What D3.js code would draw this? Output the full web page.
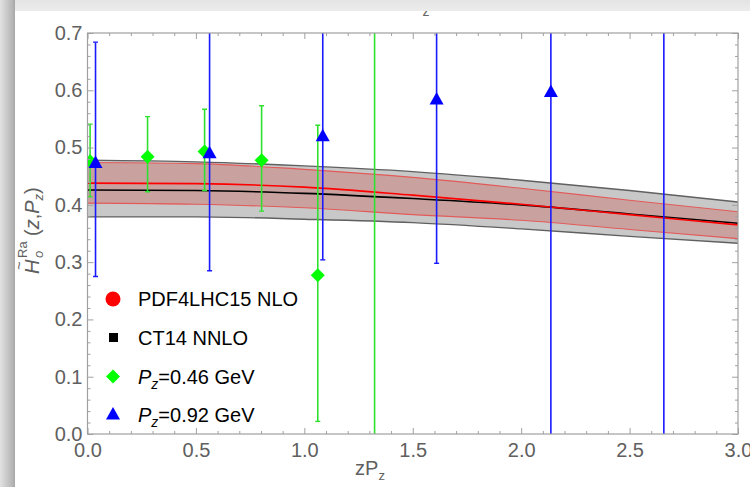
<!DOCTYPE html>
<html><head><meta charset="utf-8">
<script src="https://cdn.jsdelivr.net/npm/d3@7"></script>
<style>
html,body{margin:0;padding:0;background:#fff;}
svg{display:block;font-family:"Liberation Sans",Arial,sans-serif;}
</style></head>
<body><svg id="c" width="750" height="487"></svg>
<script>
// ---- data ----
const xTicks = [0, 0.5, 1.0, 1.5, 2.0, 2.5, 3.0];
const yTicks = [0, 0.1, 0.2, 0.3, 0.4, 0.5, 0.6, 0.7];
const xMinor = [0.1,0.2,0.3,0.4,0.6,0.7,0.8,0.9,1.1,1.2,1.3,1.4,1.6,1.7,1.8,1.9,2.1,2.2,2.3,2.4,2.6,2.7,2.8,2.9];
const yMinor = [0.02,0.04,0.06,0.08,0.12,0.14,0.16,0.18,0.22,0.24,0.26,0.28,0.32,0.34,0.36,0.38,0.42,0.44,0.46,0.48,0.52,0.54,0.56,0.58,0.62,0.64,0.66,0.68];

// bands
const bandX      = [0, 0.5, 1.0, 1.5, 2.0, 2.5, 3.0];
const ct14Upper  = [0.478, 0.475, 0.468, 0.458, 0.443, 0.425, 0.405];
const ct14Center = [0.426, 0.425, 0.420, 0.411, 0.400, 0.384, 0.368];
const ct14Lower  = [0.379, 0.379, 0.375, 0.369, 0.358, 0.345, 0.333];
const pdfUpper   = [0.474, 0.472, 0.462, 0.448, 0.429, 0.408, 0.388];
const pdfCenter  = [0.438, 0.437, 0.431, 0.417, 0.401, 0.383, 0.365];
const pdfLower   = [0.403, 0.401, 0.395, 0.383, 0.373, 0.357, 0.341];

// lattice points
const p046X  = [0.012, 0.277, 0.540, 0.803, 1.062, 1.324];
const p046Y  = [0.476, 0.484, 0.493, 0.478, 0.277, -0.40];
const p046Lo = [0.414, 0.423, 0.425, 0.389, 0.022, -1.20];
const p046Hi = [0.541, 0.554, 0.567, 0.573, 0.539, 1.20];

const p092X  = [0.037, 0.563, 1.085, 1.610, 2.137, 2.658];
const p092Y  = [0.472, 0.489, 0.519, 0.583, 0.596, 0.90];
const p092Lo = [0.275, 0.285, 0.304, 0.298, -0.30, -0.60];
const p092Hi = [0.684, 0.950, 1.000, 1.100, 1.400, 2.400];

const legendLabels = ["PDF4LHC15 NLO", "CT14 NNLO", "=0.46 GeV", "=0.92 GeV"];

// ---- layout ----
const svg = d3.select("#c");
const X0 = 87.5, X1 = 738, YT = 33, YB = 434;
const x = d3.scaleLinear().domain([0, 3]).range([X0, X1]);
const y = d3.scaleLinear().domain([0, 0.7]).range([YB, YT]);

// background frame shading
const defs = svg.append("defs");
const lg = defs.append("linearGradient").attr("id","lg").attr("x1","0").attr("x2","1").attr("y1","0").attr("y2","0");
lg.append("stop").attr("offset","0").attr("stop-color","#e2e2e2");
lg.append("stop").attr("offset","0.85").attr("stop-color","#b4b4b4");
lg.append("stop").attr("offset","1").attr("stop-color","#a6a6a6");
const tg = defs.append("linearGradient").attr("id","tg").attr("x1","0").attr("x2","0").attr("y1","0").attr("y2","1");
tg.append("stop").attr("offset","0").attr("stop-color","#e4e4e4");
tg.append("stop").attr("offset","1").attr("stop-color","#ececec");
defs.append("clipPath").attr("id","clip").append("rect")
  .attr("x", X0).attr("y", YT).attr("width", X1 - X0).attr("height", YB - YT);

svg.append("rect").attr("width",750).attr("height",487).attr("fill","#fff");

// title remnant
svg.append("text").attr("x", 426).attr("y", 16).attr("text-anchor","middle")
  .attr("font-size", 14).attr("fill","#666").text("z");

svg.append("rect").attr("x",0).attr("y",0).attr("width",750).attr("height",11).attr("fill","url(#tg)");
svg.append("rect").attr("x",0).attr("y",0).attr("width",15).attr("height",487).attr("fill","url(#lg)");

// ---- bands ----
const plot = svg.append("g").attr("clip-path","url(#clip)");
const idx = d3.range(bandX.length);
const area = (lo, hi) => d3.area().x(i => x(bandX[i])).y0(i => y(lo[i])).y1(i => y(hi[i])).curve(d3.curveMonotoneX);
const line = arr => d3.line().x(i => x(bandX[i])).y(i => y(arr[i])).curve(d3.curveMonotoneX);

plot.append("path").datum(idx).attr("d", area(ct14Lower, ct14Upper)).attr("fill","#c8c8c8");
plot.append("path").datum(idx).attr("d", area(pdfLower, pdfUpper)).attr("fill","#c9a29f");
[ct14Upper, ct14Lower].forEach(a => plot.append("path").datum(idx).attr("d", line(a))
  .attr("fill","none").attr("stroke","#606060").attr("stroke-width",1.4));
[pdfUpper, pdfLower].forEach(a => plot.append("path").datum(idx).attr("d", line(a))
  .attr("fill","none").attr("stroke","#e25a5a").attr("stroke-width",1.1));
plot.append("path").datum(idx).attr("d", line(ct14Center)).attr("fill","none").attr("stroke","#000").attr("stroke-width",1.6);
plot.append("path").datum(idx).attr("d", line(pdfCenter)).attr("fill","none").attr("stroke","#ff0000").attr("stroke-width",1.6);

// ---- error bars & markers ----
function errBars(xs, lo, hi, color) {
  const g = plot.append("g");
  xs.forEach((xv, i) => {
    g.append("line").attr("x1", x(xv)).attr("x2", x(xv)).attr("y1", y(lo[i])).attr("y2", y(hi[i]))
      .attr("stroke", color).attr("stroke-width", 1.6);
    [lo[i], hi[i]].forEach(v => g.append("line")
      .attr("x1", x(xv) - 2.5).attr("x2", x(xv) + 2.5).attr("y1", y(v)).attr("y2", y(v))
      .attr("stroke", color).attr("stroke-width", 1.4));
  });
}
errBars(p046X, p046Lo, p046Hi, "#2fe02f");
errBars(p092X, p092Lo, p092Hi, "#1a1aff");

const diamond = "M0,-7L7,0L0,7L-7,0Z";
const tri = "M0,-8L7,4.5L-7,4.5Z";
plot.append("g").selectAll("path").data(p046X).join("path")
  .attr("d", diamond).attr("fill", "#00ff00")
  .attr("transform", (d, i) => `translate(${x(d)},${y(p046Y[i])})`);
plot.append("g").selectAll("path").data(p092X).join("path")
  .attr("d", tri).attr("fill", "#0000ff")
  .attr("transform", (d, i) => `translate(${x(d)},${y(p092Y[i])})`);

// ---- axes / frame ----
const frameColor = "#a0a0a0";
function styleAxis(g, labels) {
  g.select(".domain").remove();
  g.selectAll(".tick line").attr("stroke", frameColor);
  if (labels) g.selectAll(".tick text").attr("fill","#606060").attr("font-size", 20)
    .attr("font-family", '"Liberation Sans",Arial,sans-serif');
  else g.selectAll(".tick text").remove();
}
svg.append("g").attr("transform",`translate(0,${YB})`)
  .call(d3.axisBottom(x).tickValues(xTicks).tickFormat(d3.format(".1f")).tickSizeInner(-6).tickPadding(9))
  .call(g => styleAxis(g, true));
svg.append("g").attr("transform",`translate(0,${YB})`)
  .call(d3.axisBottom(x).tickValues(xMinor).tickSizeInner(-3)).call(g => styleAxis(g, false));
svg.append("g").attr("transform",`translate(0,${YT})`)
  .call(d3.axisTop(x).tickValues(xTicks).tickSizeInner(-6)).call(g => styleAxis(g, false));
svg.append("g").attr("transform",`translate(0,${YT})`)
  .call(d3.axisTop(x).tickValues(xMinor).tickSizeInner(-3)).call(g => styleAxis(g, false));
svg.append("g").attr("transform",`translate(${X0},0)`)
  .call(d3.axisLeft(y).tickValues(yTicks).tickFormat(d3.format(".1f")).tickSizeInner(-6).tickPadding(5))
  .call(g => styleAxis(g, true));
svg.append("g").attr("transform",`translate(${X0},0)`)
  .call(d3.axisLeft(y).tickValues(yMinor).tickSizeInner(-3)).call(g => styleAxis(g, false));
svg.append("g").attr("transform",`translate(${X1},0)`)
  .call(d3.axisRight(y).tickValues(yTicks).tickSizeInner(-6)).call(g => styleAxis(g, false));
svg.append("g").attr("transform",`translate(${X1},0)`)
  .call(d3.axisRight(y).tickValues(yMinor).tickSizeInner(-3)).call(g => styleAxis(g, false));
svg.append("rect").attr("x", X0).attr("y", YT).attr("width", X1 - X0).attr("height", YB - YT)
  .attr("fill","none").attr("stroke", frameColor).attr("stroke-width", 1.2);

// ---- axis labels ----
const xl = svg.append("text").attr("x", 370).attr("y", 475).attr("text-anchor","middle")
  .attr("font-size", 20).attr("fill","#606060");
xl.append("tspan").text("zP");
xl.append("tspan").attr("font-size", 13).attr("dy", 5).text("z");

const yl = svg.append("g").attr("transform","translate(39,276) rotate(-90)").attr("fill","#606060");
yl.append("text").attr("x", 2).attr("y", 0).attr("font-size", 20).attr("font-style","italic").text("H");
yl.append("text").attr("x", 6).attr("y", -15).attr("font-size", 15).text("~");
yl.append("text").attr("x", 18).attr("y", 4).attr("font-size", 13).attr("font-style","italic").text("o");
yl.append("text").attr("x", 18).attr("y", -12).attr("font-size", 13).text("Ra");
const yt = yl.append("text").attr("x", 40).attr("y", 0).attr("font-size", 20);
yt.append("tspan").text("(");
yt.append("tspan").attr("font-style","italic").text("z");
yt.append("tspan").text(",");
yt.append("tspan").attr("font-style","italic").text("P");
yt.append("tspan").attr("font-style","italic").attr("font-size", 13).attr("dy", 4).text("z");
yt.append("tspan").attr("dy", -4).text(")");

// ---- legend ----
const legY = [299, 337.5, 376.5, 415];
const lgG = svg.append("g");
lgG.append("circle").attr("cx", 113).attr("cy", legY[0]).attr("r", 7.5).attr("fill", "#ff0000");
lgG.append("rect").attr("x", 109).attr("y", legY[1] - 4.5).attr("width", 9).attr("height", 9).attr("fill", "#000");
lgG.append("path").attr("d", diamond).attr("fill", "#00ff00").attr("transform", `translate(113,${legY[2]})`);
lgG.append("path").attr("d", tri).attr("fill", "#0000ff").attr("transform", `translate(113,${legY[3]})`);
legendLabels.forEach((lab, i) => {
  const t = lgG.append("text").attr("x", 138).attr("y", legY[i] + 7).attr("font-size", 20).attr("fill", "#000");
  if (i >= 2) {
    t.append("tspan").attr("font-style","italic").text("P");
    t.append("tspan").attr("font-style","italic").attr("font-size", 14).attr("dy", 5).text("z");
    t.append("tspan").attr("dy", -5).text(lab);
  } else t.text(lab);
});
</script></body></html>
